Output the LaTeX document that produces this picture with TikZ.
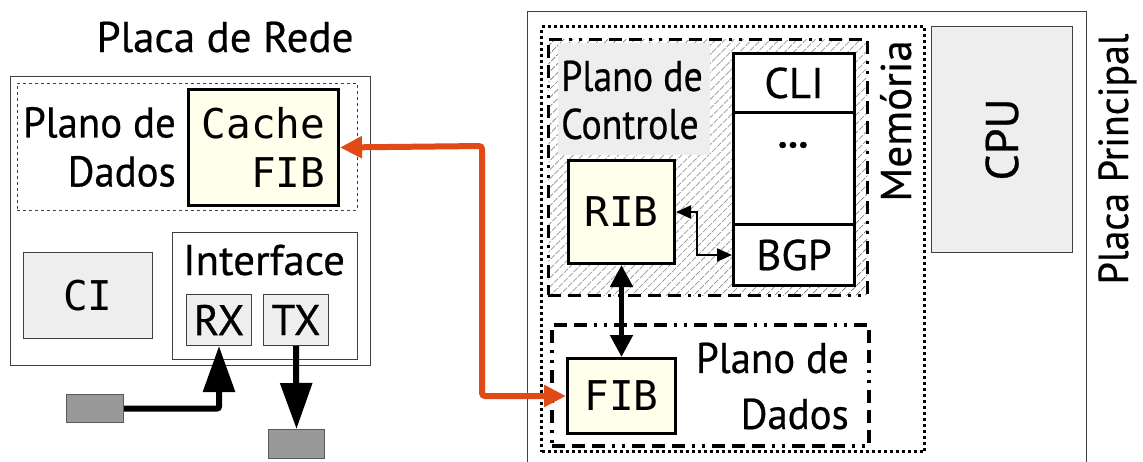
\documentclass[tikz,border=0pt]{standalone}
\usepackage{fontspec}
\setmainfont[FakeBold=0.5]{PT Sans}
\newfontfamily\monofont{DejaVu Sans Mono}
\newfontfamily\condfont[FakeStretch=0.88,FakeBold=0.5]{PT Sans}
\newfontfamily\titlefont[FakeStretch=0.95,FakeBold=0.5]{PT Sans}
\usetikzlibrary{arrows.meta,patterns.meta}
\definecolor{lightyellow}{RGB}{255,255,236}
\definecolor{boxgray}{RGB}{238,238,238}
\definecolor{portgray}{RGB}{153,153,153}
\definecolor{orangered}{RGB}{224,74,22}
\begin{document}
\begin{tikzpicture}[x=1pt,y=-1pt,
  txt/.style={inner sep=0pt, font=\fontsize{43}{50}\selectfont},
  mono/.style={inner sep=0pt, font=\monofont\fontsize{41}{49}\selectfont},
  thinbox/.style={draw=black!75, line width=1pt, anchor=north west, inner sep=0pt},
  graybox/.style={thinbox, fill=boxgray},
  portbox/.style={draw=black!65, line width=1pt, fill=portgray, anchor=north west, inner sep=0pt},
  ybox/.style={draw=black, line width=3pt, fill=lightyellow, anchor=north west, inner sep=0pt},
  wbox/.style={draw=black, line width=3pt, fill=white, anchor=north west, inner sep=0pt},
  dashdot/.style={draw=black, line width=3.5pt, anchor=north west, inner sep=0pt,
    dash pattern=on 13pt off 7pt on 13pt off 7pt on 13pt off 7pt on 3pt off 7pt on 3pt off 7pt},
  dotbox/.style={draw=black, line width=3pt, anchor=north west, inner sep=0pt, dash pattern=on 3pt off 3pt},
  bigarrow/.style={line width=6pt, rounded corners=2pt, -{Triangle[width=31pt,length=46pt]}},
  midarrow/.style={line width=5pt, {Triangle[width=22pt,length=22pt]}-{Triangle[width=22pt,length=22pt]}},
  smallarrow/.style={line width=2pt, {Triangle[width=13pt,length=15pt]}-{Triangle[width=13pt,length=15pt]}},
  orangearrow/.style={draw=orangered, line width=6pt, rounded corners=3pt,
    {Triangle[width=21pt,length=22pt]}-{Triangle[width=21pt,length=22pt]}}
]
\useasboundingbox (0,0) rectangle (1143,461);

% ---------------- Placa de Rede ----------------
\node[txt, anchor=base] (title) at (225,52) {Placa de Rede};
\node[thinbox, minimum width=360pt, minimum height=289pt] (nic) at (10,76) {};
\node[thinbox, dashed, line width=0.8pt, minimum width=340pt, minimum height=127pt] (pdleft) at (17,83) {};
\node[inner sep=0pt, anchor=east, align=right, font=\titlefont\fontsize{43}{49}\selectfont] (pdltext) at (176,147) {Plano de\\Dados};
\node[ybox, mono, align=right, minimum width=150pt, minimum height=116pt] (cache) at (187,88) {Cache\\FIB};
\node[graybox, mono, minimum width=129pt, minimum height=86pt] (ci) at (23,252) {CI};
\node[thinbox, minimum width=185pt, minimum height=127pt] (iface) at (172,232) {};
\node[txt, anchor=base] (ifacetext) at (264,275) {Interface};
\node[graybox, txt, minimum width=65pt, minimum height=51pt] (rx) at (186,294) {RX};
\node[graybox, txt, minimum width=65pt, minimum height=51pt] (tx) at (263,294) {TX};
\node[portbox, minimum width=57pt, minimum height=28pt] (portin) at (66,394) {};
\node[portbox, minimum width=56pt, minimum height=29pt] (portout) at (268,429) {};
\draw[bigarrow] (portin.east) -| (rx.south);
\draw[bigarrow] (tx.south) -- (portout.north);

% ---------------- Placa Principal ----------------
\draw[draw=black!75, line width=1pt] (527,470) -- (527,11) -- (1086,11) -- (1086,470);
\node[inner sep=0pt, rotate=90, anchor=base, font=\titlefont\fontsize{42}{50}\selectfont] (pptext) at (1128,159) {Placa Principal};
\node[graybox, minimum width=141pt, minimum height=226pt] (cpu) at (931,26) {};
\node[txt, rotate=90, font=\fontsize{46}{50}\selectfont] (cputext) at (cpu.center) {CPU};

\node[dotbox, minimum width=383pt, minimum height=425pt] (mem) at (540,25) {};
\node[txt, rotate=90, anchor=base] (memtext) at (911,121) {Memória};

% Plano de Controle
\node[dashdot, minimum width=319pt, minimum height=256pt,
  pattern={Lines[angle=45,distance=6.5pt,line width=0.9pt]}, pattern color=black!50] (ctrl) at (548,39) {};
\node[fill=boxgray, anchor=north west, inner sep=0pt, minimum width=152pt, minimum height=112pt] (ctrlbg) at (558,43) {};
\node[inner sep=0pt, anchor=west, align=left, font=\condfont\fontsize{43}{48}\selectfont] (ctrltext) at (561,100) {Plano de\\Controle};
\node[ybox, mono, minimum width=106pt, minimum height=103pt] (rib) at (567,159) {RIB};
\node[wbox, txt, minimum width=121pt, minimum height=59pt] (cli) at (732,52) {CLI};
\node[wbox, minimum width=121pt, minimum height=112pt] (etc) at (732,111) {};
\node[inner sep=0pt, font=\bfseries\fontsize{40}{40}\selectfont] (dots) at (793,145) {...};
\node[wbox, txt, minimum width=121pt, minimum height=61pt] (bgp) at (732,223) {BGP};
\coordinate (ribbend) at (697,210);
\draw[smallarrow] (rib.east) -- (rib.east -| ribbend) |- (bgp.west);

% Plano de Dados (direita)
\node[dashdot, minimum width=317pt, minimum height=121pt] (pdright) at (550,323) {};
\node[inner sep=0pt, anchor=east, align=right, font=\titlefont\fontsize{43}{56}\selectfont] (pdrtext) at (849,386) {Plano de\\Dados};
\node[ybox, mono, minimum width=108pt, minimum height=75pt] (fib) at (566,357) {FIB};
\draw[midarrow] (rib.south) -- (fib.north);

% Ligação laranja
\coordinate (orbend) at (482,146);
\draw[orangearrow] (cache.east) -- (orbend) |- (fib.west);
\end{tikzpicture}
\end{document}
